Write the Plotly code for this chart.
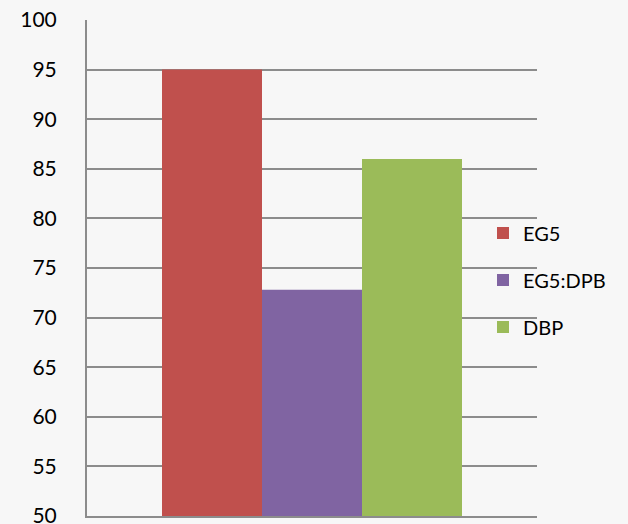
import plotly.graph_objects as go

# Series shown as separate grouped bars in one category
series_names = ["EG5", "EG5:DPB", "DBP"]
series_values = [95.0, 72.8, 86.0]
series_colors = ["#c0504d", "#8064a2", "#9bbb59"]
category = [""]

y_ticks = list(range(50, 101, 5))

fig = go.Figure()
for name, val, col in zip(series_names, series_values, series_colors):
    fig.add_trace(go.Bar(
        x=category, y=[val], name=name, marker_color=col,
        marker_line_width=0, legendgroup=name,
    ))

bg = "#f7f7f7"
grid = "#8c8c8c"
fig.update_layout(
    width=628, height=524,
    margin=dict(l=87, r=91, t=20, b=8, autoexpand=False),
    paper_bgcolor=bg, plot_bgcolor=bg,
    barmode="group", bargap=1/3, bargroupgap=0,
    font=dict(family="Lato, Open Sans, sans-serif", size=18, color="#000000"),
    showlegend=True,
    legend=dict(
        x=0.88, y=0.476, xanchor="left", yanchor="middle",
        bgcolor="rgba(0,0,0,0)", tracegroupgap=18,
        font=dict(size=20), itemwidth=30,
    ),
    xaxis=dict(
        showticklabels=False, showgrid=False, zeroline=False,
        showline=True, linecolor=grid, linewidth=2, ticks="",
        automargin=False,
    ),
    yaxis=dict(
        range=[50, 100], tickvals=y_ticks, showgrid=True,
        gridcolor=grid, gridwidth=1.5, zeroline=False,
        showline=True, linecolor=grid, linewidth=2, ticks="",
        ticklabelstandoff=24, tickfont=dict(size=21),
        ticklabeloverflow="allow", automargin=False,
    ),
)

fig.write_html("out.html")
